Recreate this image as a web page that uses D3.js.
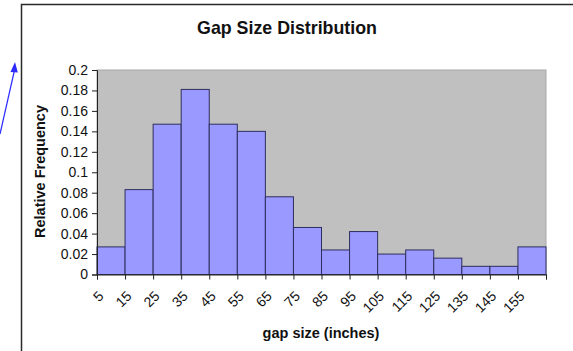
<!DOCTYPE html>
<html>
<head>
<meta charset="utf-8">
<script src="https://cdn.jsdelivr.net/npm/d3@7"></script>
<style>
  html, body { margin: 0; padding: 0; background: #fff; }
  svg { display: block; font-family: "Liberation Sans", Arial, sans-serif; }
</style>
</head>
<body>
<svg id="chart" width="573" height="351"></svg>
<script>
// Histogram bins: lower edge of each 10-inch bin
const binStarts = [5, 15, 25, 35, 45, 55, 65, 75, 85, 95, 105, 115, 125, 135, 145, 155];
const binWidth = 10;
// Relative frequency of each bin
const relFreq = [0.027, 0.083, 0.147, 0.181, 0.147, 0.140, 0.076, 0.046,
                 0.024, 0.042, 0.020, 0.024, 0.016, 0.008, 0.008, 0.027];
// Category tick labels along the x axis
const xTickLabels = ["5", "15", "25", "35", "45", "55", "65", "75", "85", "95",
                     "105", "115", "125", "135", "145", "155"];
// Y axis ticks
const yTicks = [0, 0.02, 0.04, 0.06, 0.08, 0.1, 0.12, 0.14, 0.16, 0.18, 0.2];

const svg = d3.select("#chart");
const plot = { left: 97, right: 546, top: 70, bottom: 274.5 };

const x = d3.scaleLinear()
  .domain([binStarts[0], binStarts[binStarts.length - 1] + binWidth])
  .range([plot.left, plot.right]);
const y = d3.scaleLinear().domain([0, 0.2]).range([plot.bottom, plot.top]);

// outer chart frame (top and left edges visible)
svg.append("path")
  .attr("d", `M21.5,351 V4.5 H573`)
  .attr("fill", "none")
  .attr("stroke", "#2a2a2a")
  .attr("stroke-width", 1.5);

// annotation arrow at the left
const arrowPts = [[0, 134], [15, 64]];
svg.append("line")
  .attr("x1", arrowPts[0][0]).attr("y1", arrowPts[0][1])
  .attr("x2", arrowPts[1][0]).attr("y2", arrowPts[1][1] + 4)
  .attr("stroke", "#2b2bff").attr("stroke-width", 1.2);
svg.append("path")
  .attr("d", "M15,62 L10.5,72 L17.8,72.5 Z")
  .attr("fill", "#2b2bff");

// plot background
svg.append("rect")
  .attr("x", plot.left).attr("y", plot.top)
  .attr("width", plot.right - plot.left).attr("height", plot.bottom - plot.top)
  .attr("fill", "#c0c0c0")
  .attr("stroke", "#a8a8a8").attr("stroke-width", 1);

// bars
svg.append("g").selectAll("rect")
  .data(binStarts.map((s, i) => ({ s, v: relFreq[i] })))
  .join("rect")
  .attr("x", d => x(d.s))
  .attr("y", d => y(d.v))
  .attr("width", d => x(d.s + binWidth) - x(d.s))
  .attr("height", d => y(0) - y(d.v))
  .attr("fill", "#9999ff")
  .attr("stroke", "#2e2e5e")
  .attr("stroke-width", 1);

// y axis
const yAxis = d3.axisLeft(y)
  .tickValues(yTicks)
  .tickSize(5)
  .tickPadding(4)
  .tickFormat(d => d === 0 ? "0" : String(+d.toFixed(2)));
const gy = svg.append("g")
  .attr("transform", `translate(${plot.left},0)`)
  .call(yAxis);
gy.select(".domain").attr("stroke", "#222");
gy.selectAll(".tick line").attr("stroke", "#222");
gy.selectAll(".tick text")
  .attr("font-size", 14)
  .attr("font-family", "Liberation Sans, Arial, sans-serif")
  .attr("fill", "#111");

// x axis
const edgeTicks = binStarts.concat([binStarts[binStarts.length - 1] + binWidth]);
const xAxis = d3.axisBottom(x)
  .tickValues(edgeTicks)
  .tickSize(5)
  .tickFormat("");
const gx = svg.append("g")
  .attr("transform", `translate(0,${plot.bottom})`)
  .call(xAxis);
gx.select(".domain").attr("stroke", "#222");
gx.selectAll(".tick line").attr("stroke", "#222");

// rotated category labels
svg.append("g").selectAll("text")
  .data(binStarts.map((s, i) => ({ s, label: xTickLabels[i] })))
  .join("text")
  .attr("transform", d => `translate(${x(d.s) + 7.5},${297}) rotate(-45)`)
  .attr("text-anchor", "end")
  .attr("font-size", 14)
  .attr("fill", "#111")
  .text(d => d.label);

// titles
svg.append("text")
  .attr("x", 287).attr("y", 34)
  .attr("text-anchor", "middle")
  .attr("font-size", 17.8).attr("font-weight", "bold")
  .attr("fill", "#111")
  .text("Gap Size Distribution");

svg.append("text")
  .attr("x", 321).attr("y", 338)
  .attr("text-anchor", "middle")
  .attr("font-size", 14.5).attr("font-weight", "bold")
  .attr("fill", "#111")
  .text("gap size (inches)");

svg.append("text")
  .attr("transform", "translate(45,171.5) rotate(-90)")
  .attr("text-anchor", "middle")
  .attr("font-size", 14.5).attr("font-weight", "bold")
  .attr("fill", "#111")
  .text("Relative Frequency");
</script>
</body>
</html>
